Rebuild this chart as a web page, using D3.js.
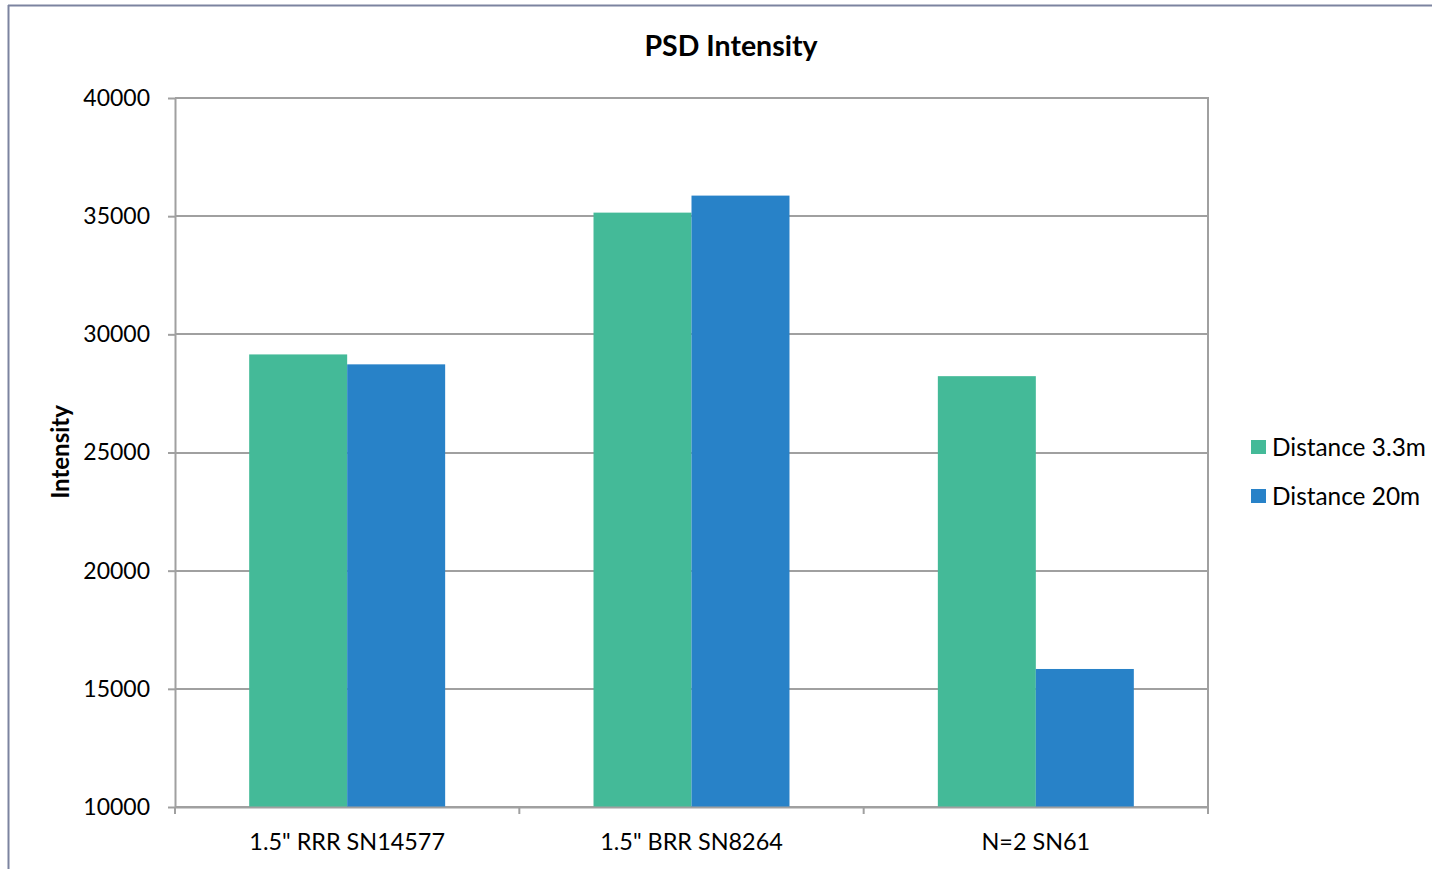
<!DOCTYPE html>
<html>
<head>
<meta charset="utf-8">
<script src="https://cdn.jsdelivr.net/npm/d3@7"></script>
<style>
  html, body { margin: 0; padding: 0; background: #fff; }
  svg { display: block; }
  text { font-family: Lato, "Open Sans", sans-serif; fill: #000; }
</style>
</head>
<body>
<svg id="chart" width="1432" height="869"></svg>
<script>
// Chart data
const categories = ['1.5" RRR SN14577', '1.5" BRR SN8264', 'N=2 SN61'];
const seriesNames = ["Distance 3.3m", "Distance 20m"];
const near = [29150, 35150, 28230];   // Distance 3.3m
const far  = [28730, 35870, 15840];   // Distance 20m
const yTicks = [10000, 15000, 20000, 25000, 30000, 35000, 40000];
const colors = ["#44BA98", "#2882C8"];

const seriesValues = [near, far];

const svg = d3.select("#chart");
const W = 1432, H = 869;
const plot = { left: 175, right: 1208, top: 98, bottom: 807 };

// outer frame (top and left edges visible)
svg.append("line").attr("x1", 8).attr("x2", W).attr("y1", 5.5).attr("y2", 5.5)
  .attr("stroke", "#7C84A0").attr("stroke-width", 2);
svg.append("line").attr("x1", 8.5).attr("x2", 8.5).attr("y1", 5).attr("y2", H)
  .attr("stroke", "#7C84A0").attr("stroke-width", 2);

const x = d3.scaleBand().domain(categories).range([plot.left, plot.right]).paddingInner(0).paddingOuter(0);
const xInner = d3.scaleBand().domain(seriesNames).range([0, x.bandwidth()]).paddingInner(0).paddingOuter(0.757);
const y = d3.scaleLinear().domain([10000, 40000]).range([plot.bottom, plot.top]);

// horizontal gridlines
svg.append("g").selectAll("line").data(yTicks).join("line")
  .attr("x1", plot.left).attr("x2", plot.right)
  .attr("y1", d => Math.round(y(d))).attr("y2", d => Math.round(y(d)))
  .attr("stroke", "#A0A0A0").attr("stroke-width", 2);

// right frame edge
svg.append("line").attr("x1", plot.right).attr("x2", plot.right)
  .attr("y1", plot.top - 1).attr("y2", plot.bottom)
  .attr("stroke", "#A0A0A0").attr("stroke-width", 2);

// bars
const groups = svg.append("g").selectAll("g").data(categories).join("g")
  .attr("transform", d => `translate(${x(d)},0)`);
groups.selectAll("rect")
  .data((d, i) => seriesNames.map((s, j) => ({ s, v: seriesValues[j][i], j })))
  .join("rect")
  .attr("x", d => xInner(d.s))
  .attr("width", xInner.bandwidth())
  .attr("y", d => y(d.v))
  .attr("height", d => plot.bottom - y(d.v))
  .attr("fill", d => colors[d.j]);

// y axis
const yAxis = d3.axisLeft(y).tickValues(yTicks).tickSize(7).tickSizeOuter(0).tickPadding(18).tickFormat(d3.format("d"));
const gy = svg.append("g").attr("transform", `translate(${plot.left},0)`).call(yAxis);
gy.select(".domain").attr("stroke", "#A0A0A0").attr("stroke-width", 2);
gy.selectAll(".tick line").attr("stroke", "#A0A0A0").attr("stroke-width", 2);
gy.selectAll(".tick text").attr("font-size", 23).attr("font-family", "Lato, sans-serif").attr("fill", "#000");

// x axis
const xAxis = d3.axisBottom(x).tickSize(0).tickPadding(26);
const gx = svg.append("g").attr("transform", `translate(0,${plot.bottom})`).call(xAxis);
gx.select(".domain").attr("stroke", "#A0A0A0").attr("stroke-width", 2);
gx.selectAll(".tick text").attr("font-size", 23.4).attr("font-family", "Lato, sans-serif").attr("fill", "#000");
// category boundary ticks
const bounds = categories.map(c => x(c)).concat([plot.right]);
gx.append("g").selectAll("line").data(bounds).join("line")
  .attr("x1", d => d).attr("x2", d => d).attr("y1", 0).attr("y2", 7)
  .attr("stroke", "#A0A0A0").attr("stroke-width", 2);

// title
svg.append("text").attr("x", 731).attr("y", 56).attr("text-anchor", "middle")
  .attr("font-size", 28.5).attr("font-weight", "bold").text("PSD Intensity");

// y axis title
svg.append("text").attr("transform", "translate(69,452) rotate(-90)")
  .attr("text-anchor", "middle").attr("font-size", 24).attr("font-weight", "bold").text("Intensity");

// legend
const legend = svg.append("g").selectAll("g").data(seriesNames).join("g")
  .attr("transform", (d, i) => `translate(1251,${440 + i * 49})`);
legend.append("rect").attr("width", 15).attr("height", 14).attr("fill", (d, i) => colors[i]);
legend.append("text").attr("x", 21).attr("y", 15.5).attr("font-size", 24.4).text(d => d);
</script>
</body>
</html>
